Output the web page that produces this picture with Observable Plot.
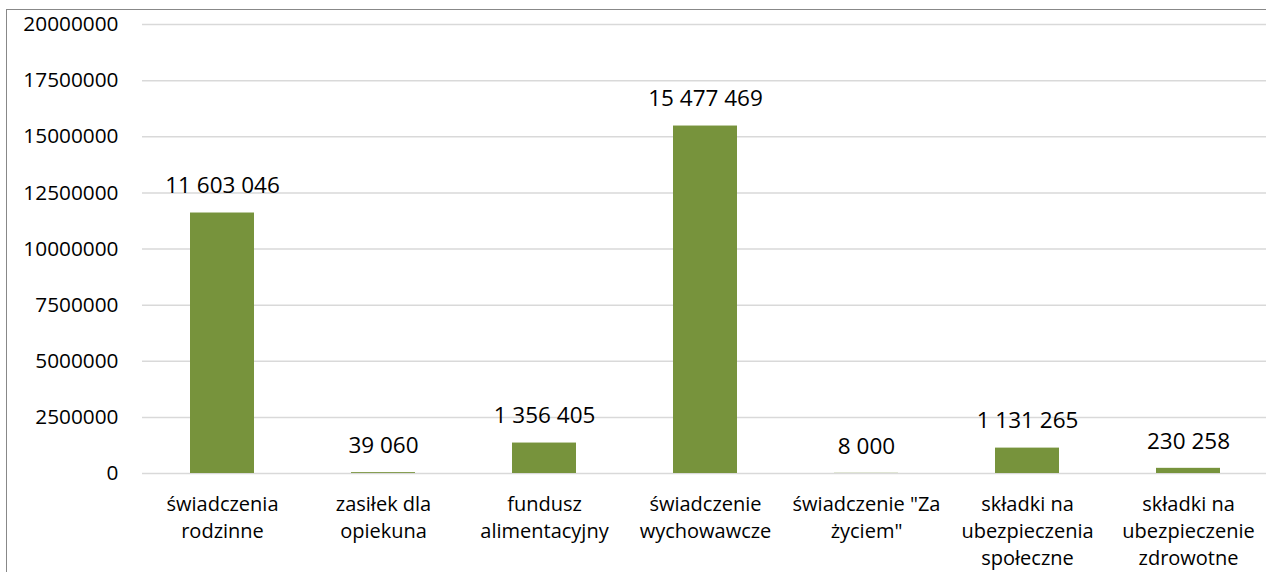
<!DOCTYPE html>
<html><head><meta charset="utf-8">
<script src="https://cdn.jsdelivr.net/npm/d3@7"></script>
<script src="https://cdn.jsdelivr.net/npm/@observablehq/plot@0.6"></script>
<style>
html,body{margin:0;padding:0;background:#fff;overflow:hidden;width:1266px;height:572px;}
#wrap{position:relative;width:1266px;height:572px;overflow:hidden;}
#chart{position:absolute;left:0;top:0;width:1290px;}
#chart svg{max-width:none !important;}
#frame{position:absolute;left:6px;top:9px;width:1300px;height:600px;border:1.5px solid #888;box-sizing:border-box;pointer-events:none;}
</style></head>
<body><div id="wrap"><div id="chart"></div><div id="frame"></div></div>
<script>
const categories = ["świadczenia\nrodzinne","zasiłek dla\nopiekuna","fundusz\nalimentacyjny","świadczenie\nwychowawcze","świadczenie \"Za\nżyciem\"","składki na\nubezpieczenia\nspołeczne","składki na\nubezpieczenie\nzdrowotne"];
const values = [11603046, 39060, 1356405, 15477469, 8000, 1131265, 230258];
const yTicks = [0, 2500000, 5000000, 7500000, 10000000, 12500000, 15000000, 17500000, 20000000];

const data = categories.map((c, i) => ({category: c, value: values[i]}));
const fmt = d3.formatLocale({thousands: " ", grouping: [3], decimal: ","}).format(",d");
const font = "'Open Sans', Lato, sans-serif";

const chart = Plot.plot({
  width: 1290, height: 572,
  marginLeft: 142, marginRight: 21, marginTop: 24, marginBottom: 99,
  style: {fontFamily: font, fontSize: "20px", color: "#000", background: "transparent", overflow: "visible", maxWidth: "none"},
  x: {domain: categories, paddingInner: 0.6, paddingOuter: 0.3, label: null},
  y: {domain: [0, 20000000], ticks: yTicks, label: null},
  marks: [
    Plot.ruleY(yTicks, {stroke: "#d9d9d9", strokeWidth: 1.5, strokeOpacity: 1}),
    Plot.barY(data, {x: "category", y: "value", fill: "#77933c"}),
    Plot.text(data, {x: "category", y: "value", text: d => fmt(d.value), dy: -27, fontSize: 22.5, fill: "#000", lineAnchor: "middle"}),
    Plot.axisY({ticks: yTicks, tickSize: 0, tickPadding: 24, tickFormat: d => String(d), fontSize: 20.8, fill: "#000"}),
    Plot.axisX({tickSize: 0, tickPadding: 19, fontSize: 20, lineHeight: 1.33, fill: "#000", lineAnchor: "top"})
  ]
});
document.getElementById("chart").appendChild(chart);
</script></body></html>
